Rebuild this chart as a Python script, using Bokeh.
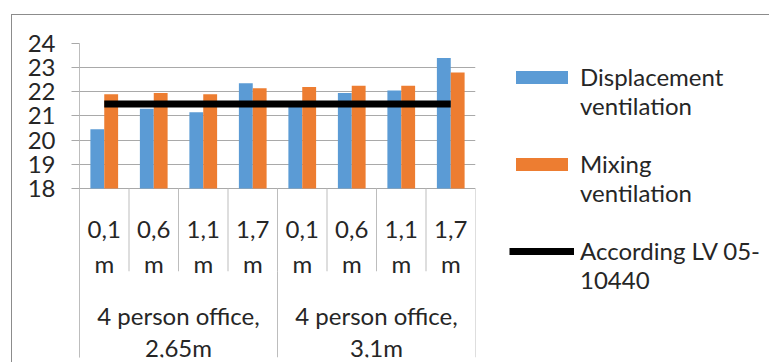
from bokeh.plotting import figure
from bokeh.models import (FactorRange, Range1d, FixedTicker, Legend, LegendItem,
                          ColumnDataSource, InlineStyleSheet)
from bokeh.transform import dodge
from bokeh.core.properties import value
from bokeh.embed import file_html
from bokeh.resources import INLINE

# Measured air temperature (°C) at four heights in two office rooms
groups = ["4 person office, 2,65m", "4 person office, 3,1m"]
heights = ["0,1 m", "0,6 m", "1,1 m", "1,7 m"]
displacement = [20.45, 21.3, 21.15, 22.35, 21.6, 21.95, 22.05, 23.4]
mixing = [21.9, 21.95, 21.9, 22.15, 22.2, 22.25, 22.25, 22.8]
limit = [21.5, 21.5, 21.5, 21.5, 21.5, 21.5, 21.5, 21.5]
y_ticks = [18, 19, 20, 21, 22, 23, 24]
series_names = ["Displacement\nventilation", "Mixing\nventilation",
                "According LV 05-\n10440"]

FONT = "Lato"
FSIZE = "24px"
TEXT = "#262626"
GRID = "#a9a9a9"
SEP = "#bdbdbd"
BLUE = "#5b9bd5"
ORANGE = "#ed7d31"

factors = [(g, h) for g in groups for h in heights]
src = ColumnDataSource(dict(x=factors, disp=displacement, mix=mixing, lim=limit,
                            num=[h.split(" ")[0] for _, h in factors],
                            unit=[h.split(" ")[1] for _, h in factors]))

x_range = FactorRange(*factors, group_padding=0, factor_padding=0, range_padding=0)
p = figure(frame_width=396, frame_height=314, x_range=x_range,
           y_range=Range1d(11.0, 24.0),
           output_backend="svg", toolbar_location=None, x_axis_location=None,
           min_border_left=79, min_border_right=294, min_border_top=43,
           min_border_bottom=5)
p.outline_line_color = None
p.xgrid.visible = False

ticker = FixedTicker(ticks=y_ticks)
p.yaxis.ticker = ticker
p.ygrid.ticker = ticker
p.ygrid.grid_line_color = GRID
p.yaxis.axis_line_color = SEP
p.yaxis.major_tick_line_color = GRID
p.yaxis.major_tick_out = 8
p.yaxis.major_tick_in = 0
p.yaxis.minor_tick_line_color = None
p.yaxis.major_label_standoff = 16
p.yaxis.major_label_text_font = FONT
p.yaxis.major_label_text_font_size = FSIZE
p.yaxis.major_label_text_color = TEXT

bar_w = 0.28
r_disp = p.vbar(x=dodge("x", -bar_w / 2, range=x_range), top="disp", bottom=18,
                width=bar_w, source=src, fill_color=BLUE, line_color=None)
r_mix = p.vbar(x=dodge("x", bar_w / 2, range=x_range), top="mix", bottom=18,
               width=bar_w, source=src, fill_color=ORANGE, line_color=None)
r_lim = p.line(x="x", y="lim", source=src, line_color="black", line_width=7,
               line_cap="butt")

# category separators under the value axis
p.segment(x0=dodge("x", -0.5, range=x_range), x1=dodge("x", -0.5, range=x_range),
          y0=18, y1=14.57, source=src, line_color=SEP, line_width=1)
last = ColumnDataSource(dict(x=[factors[-1]]))
p.segment(x0=dodge("x", 0.5, range=x_range), x1=dodge("x", 0.5, range=x_range),
          y0=18, y1=11.0, source=last, line_color=SEP, line_width=1)
firsts = ColumnDataSource(dict(x=[(g, heights[0]) for g in groups]))
p.segment(x0=dodge("x", -0.5, range=x_range), x1=dodge("x", -0.5, range=x_range),
          y0=14.57, y1=11.0, source=firsts, line_color=SEP, line_width=1)

# two-row labels for heights and rooms
label_style = dict(text_align="center", text_baseline="alphabetic",
                   text_font=value(FONT), text_font_size=FSIZE, text_color=TEXT)
p.text(x="x", y=16.28, text="num", source=src, **label_style)
p.text(x="x", y=14.9, text="unit", source=src, **label_style)
p.text(x=list(groups), y=12.75, text=[g.rsplit(" ", 1)[0] for g in groups],
       **label_style)
p.text(x=list(groups), y=11.43, text=[g.rsplit(" ", 1)[1] for g in groups],
       **label_style)

# a leading empty line keeps each swatch level with the first line of its label
legend = Legend(items=[LegendItem(label="\n" + series_names[0], renderers=[r_disp]),
                       LegendItem(label="\n" + series_names[1], renderers=[r_mix]),
                       LegendItem(label="\n" + series_names[2], renderers=[r_lim])],
                location=(34, 63), glyph_width=65, glyph_height=16,
                label_standoff=6, spacing=0, padding=0, margin=0,
                border_line_color=None, background_fill_alpha=0,
                label_text_font=FONT, label_text_font_size=FSIZE,
                label_text_color=TEXT, label_text_line_height=1.17)
p.add_layout(legend, "right")

# chart border (top and left edges of the chart area)
p.stylesheets = [InlineStyleSheet(css="""
:host { position: relative; overflow: hidden; }
:host::after {
  content: ""; position: absolute; left: 11px; top: 14px;
  width: 900px; height: 500px; box-sizing: border-box;
  border-top: 1px solid #8c8c8c; border-left: 1px solid #8c8c8c;
  pointer-events: none; z-index: 5;
}
""")]

open("out.html", "w").write(file_html(p, INLINE))
